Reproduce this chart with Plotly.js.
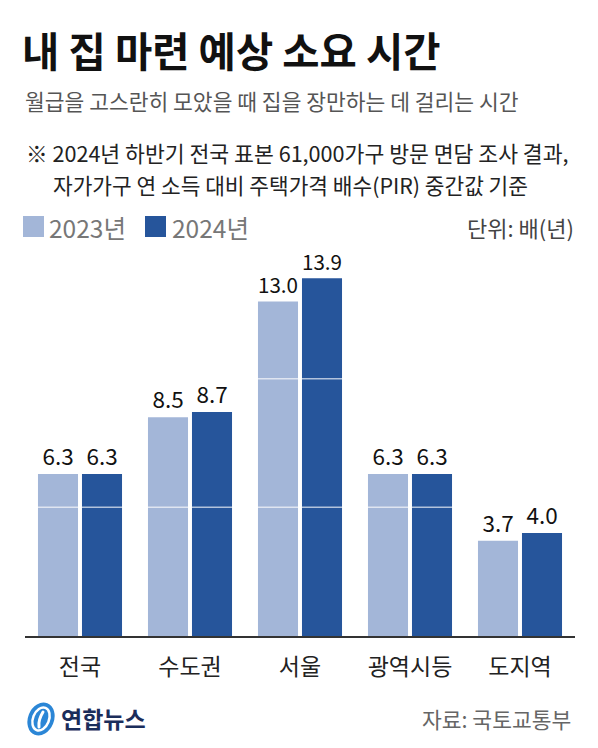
<!DOCTYPE html>
<html>
<head>
<meta charset="utf-8">
<script src="https://cdn.plot.ly/plotly-3.0.1.min.js"></script>
<style>
  html, body { margin: 0; padding: 0; background: #fff; }
  #myDiv { width: 598px; height: 748px; }
</style>
</head>
<body>
<div id="myDiv"></div>
<script>
var categories = ['전국', '수도권', '서울', '광역시등', '도지역'];
var seriesNames = ['2023년', '2024년'];
var values2023 = [6.3, 8.5, 13.0, 6.3, 3.7];
var values2024 = [6.3, 8.7, 13.9, 6.3, 4.0];
var gridLines = [5, 10];

var lightBlue = '#a3b6d8';
var darkBlue = '#26559b';
var fontKr = '"Noto Sans CJK KR", "Noto Sans", sans-serif';

// plot box in page pixels
var W = 598, H = 748;
var L = 25, R = 23, T = 250, B = 112;
var plotW = W - L - R, plotH = H - T - B;
function px(x) { return (x - L) / plotW; }
function py(y) { return (H - B - y) / plotH; }

function barTrace(name, vals, color) {
  return {
    type: 'bar',
    name: name,
    x: categories,
    y: vals,
    marker: { color: color, line: { width: 0 } },
    texttemplate: '%{y:.1f}',
    textposition: 'outside',
    cliponaxis: false,
    textfont: { family: fontKr, size: 22.5, color: '#111' },
    hoverinfo: 'skip'
  };
}

var data = [];
data.push(barTrace(seriesNames[0], values2023, lightBlue));
data.push(barTrace(seriesNames[1], values2024, darkBlue));

var shapes = [];
for (let i = 0; i < gridLines.length; i++) {
  shapes.push({
    type: 'line', layer: 'above',
    xref: 'paper', x0: 0, x1: 1,
    yref: 'y', y0: gridLines[i], y1: gridLines[i],
    line: { color: 'rgba(255,255,255,0.65)', width: 1.5 }
  });
}
// legend squares
var legendX = [23, 145];
var legendColors = [lightBlue, darkBlue];
for (let i = 0; i < legendX.length; i++) {
  shapes.push({
    type: 'rect', xref: 'paper', yref: 'paper',
    x0: px(legendX[i]), x1: px(legendX[i] + 21),
    y0: py(237), y1: py(216),
    fillcolor: legendColors[i], line: { width: 0 }
  });
}

function note(text, x, y, size, color, anchor, weight) {
  return {
    text: text, xref: 'paper', yref: 'paper',
    x: px(x), y: py(y), xanchor: anchor || 'left', yanchor: 'middle',
    showarrow: false,
    font: { family: fontKr, size: size, color: color, weight: weight || 400 }
  };
}

var annotations = [
  note('월급을 고스란히 모았을 때 집을 장만하는 데 걸리는 시간', 23, 101, 21.5, '#555'),
  note('※ 2024년 하반기 전국 표본 61,000가구 방문 면담 조사 결과,', 24, 152, 21.6, '#222'),
  note('자가가구 연 소득 대비 주택가격 배수(PIR) 중간값 기준', 51, 184, 21.4, '#222'),
  note(seriesNames[0], 47, 227, 24.5, '#777'),
  note(seriesNames[1], 170, 227, 24.5, '#777'),
  note('단위: 배(년)', 576, 227, 22, '#444', 'right'),
  note('연합뉴스', 59, 718, 23, '#1b2d5b', 'left', 700),
  note('자료: 국토교통부', 573, 718, 21.5, '#666', 'right')
];

// little Yonhap emblem
var logoSvg = '<svg xmlns="http://www.w3.org/2000/svg" width="30" height="38" viewBox="0 0 30 38">' +
  '<ellipse cx="15" cy="19" rx="13" ry="17" transform="rotate(22 15 19)" fill="#2b86d6"/>' +
  '<ellipse cx="15" cy="19" rx="8" ry="12" transform="rotate(22 15 19)" fill="none" stroke="#fff" stroke-width="2.5"/>' +
  '<path d="M17 12 Q12 20 13 27" fill="none" stroke="#fff" stroke-width="3" stroke-linecap="round"/>' +
  '</svg>';

var layout = {
  width: W, height: H,
  margin: { l: L, r: R, t: T, b: B },
  paper_bgcolor: '#fff', plot_bgcolor: '#fff',
  showlegend: false,
  barmode: 'group',
  bargap: 0.2,
  bargroupgap: 0.09,
  title: {
    text: '내 집 마련 예상 소요 시간',
    xref: 'container', yref: 'container',
    x: 22 / W, xanchor: 'left',
    y: 1 - 53 / H, yanchor: 'middle',
    font: { family: fontKr, size: 40.5, color: '#111', weight: 700 }
  },
  xaxis: {
    showline: true, linecolor: '#333', linewidth: 2,
    showgrid: false, zeroline: false,
    ticks: 'outside', ticklen: 9, tickcolor: 'rgba(0,0,0,0)',
    tickfont: { family: fontKr, size: 23, color: '#222' },
    fixedrange: true
  },
  yaxis: {
    range: [0, 15], visible: false, showgrid: false, zeroline: false,
    fixedrange: true
  },
  shapes: shapes,
  annotations: annotations,
  images: [{
    source: 'data:image/svg+xml;utf8,' + encodeURIComponent(logoSvg),
    xref: 'paper', yref: 'paper',
    x: px(26), y: py(700), sizex: 30 / plotW, sizey: 38 / plotH,
    xanchor: 'left', yanchor: 'top', sizing: 'stretch', layer: 'above'
  }]
};

Plotly.newPlot('myDiv', data, layout, { displayModeBar: false, staticPlot: true });
</script>
</body>
</html>
